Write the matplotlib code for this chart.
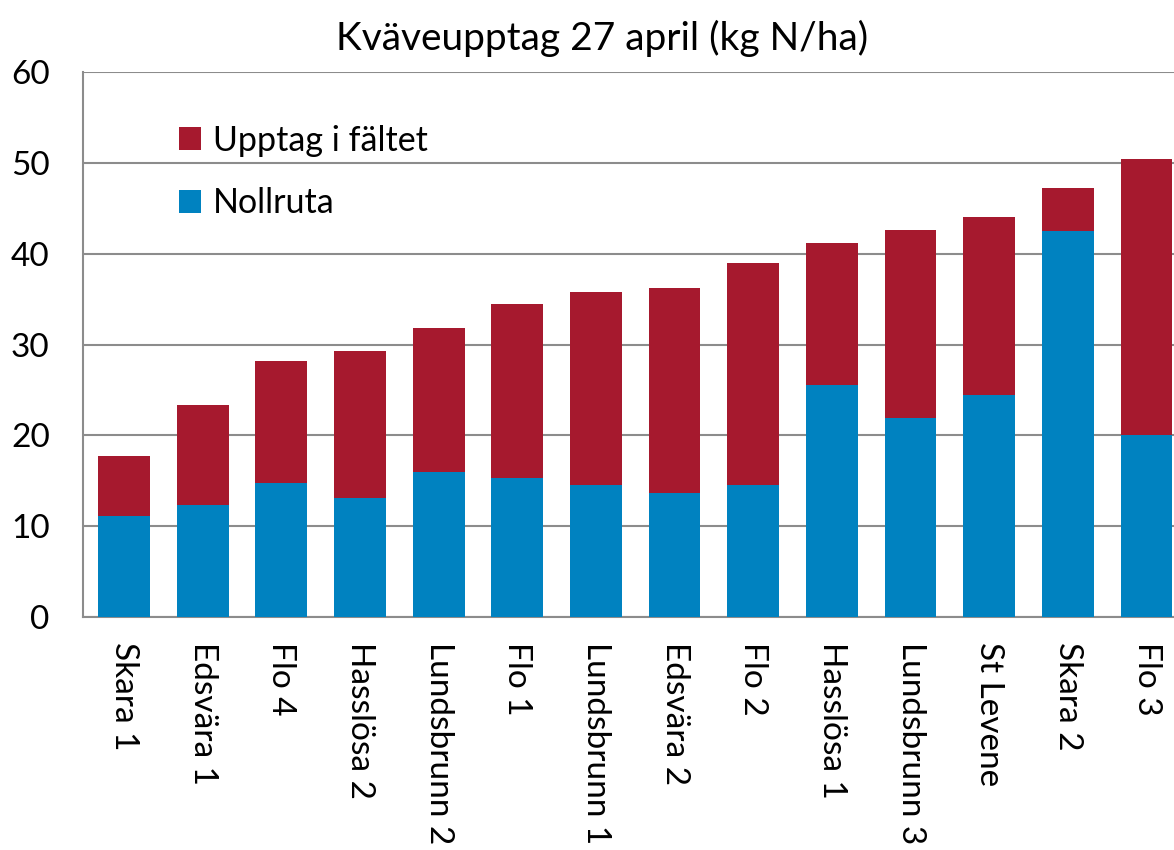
import matplotlib.pyplot as plt
import numpy as np

plt.rcParams['font.family'] = ['Lato', 'DejaVu Sans']

# data
sites = ["Skara 1", "Edsvära 1", "Flo 4", "Hasslösa 2", "Lundsbrunn 2", "Flo 1",
         "Lundsbrunn 1", "Edsvära 2", "Flo 2", "Hasslösa 1", "Lundsbrunn 3",
         "St Levene", "Skara 2", "Flo 3"]
nollruta = [11.1, 12.3, 14.8, 13.1, 16.0, 15.3, 14.6, 13.7, 14.5, 25.6, 21.9, 24.5, 42.5, 20.1]
totalt = [17.7, 23.4, 28.2, 29.3, 31.8, 34.5, 35.8, 36.2, 39.0, 41.2, 42.6, 44.1, 47.3, 50.4]
upptag = [t - n for t, n in zip(totalt, nollruta)]

red = "#A6192E"
blue = "#0082C0"
grey = "#8C8C8C"

fig = plt.figure(figsize=(11.74, 8.5), dpi=100)
ax = fig.add_axes([0.0707, 0.274, 0.93, 0.641])

x = np.arange(len(sites))
b1 = ax.bar(x, nollruta, width=0.66, color=blue, label="Nollruta", zorder=3)
b2 = ax.bar(x, upptag, bottom=nollruta, width=0.66, color=red, label="Upptag i fältet", zorder=3)

ax.set_xlim(-0.52, 13.36)
ax.set_ylim(0, 60)
ax.set_yticks(range(0, 61, 10))
ax.yaxis.grid(True, color=grey, linewidth=1.5, zorder=0)
ax.set_axisbelow(True)

for s in ["top", "right"]:
    ax.spines[s].set_visible(False)
for s in ["left", "bottom"]:
    ax.spines[s].set_color(grey)
    ax.spines[s].set_linewidth(1.5)

ax.set_xticks(x)
ax.set_xticklabels(sites, rotation=270, fontsize=24)
ax.tick_params(axis="x", length=0, pad=18)
ax.tick_params(axis="y", length=0, labelsize=24, pad=24)

# title centred on the visible chart, not the axes
ax.set_title("Kväveupptag 27 april (kg N/ha)", fontsize=28, pad=16, x=0.475)

ax.legend([b2, b1], ["Upptag i fältet", "Nollruta"], loc="upper left",
          bbox_to_anchor=(0.06, 0.96), frameon=False, fontsize=24.5,
          handlelength=0.65, handleheight=0.65, handletextpad=0.35, labelspacing=0.9)

fig.savefig("out.png", dpi=100)
